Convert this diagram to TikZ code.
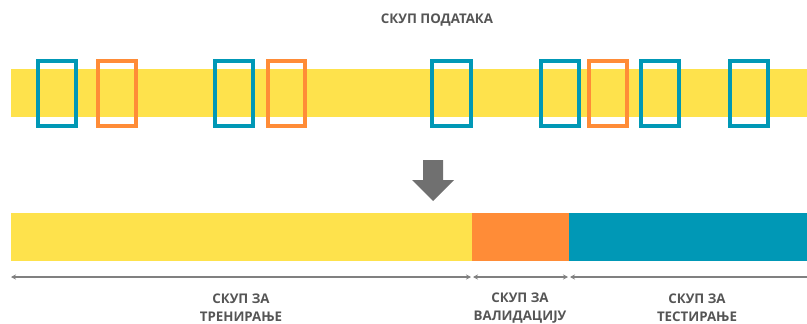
\documentclass[tikz,border=0pt]{standalone}
\usepackage{fontspec}
\setmainfont{Open Sans}
\usetikzlibrary{arrows.meta}
\definecolor{band}{RGB}{254,226,76}
\definecolor{valc}{RGB}{255,140,55}
\definecolor{testc}{RGB}{0,152,182}
\definecolor{txtc}{RGB}{85,85,85}
\definecolor{dimc}{RGB}{128,128,128}
\definecolor{arrc}{RGB}{112,112,112}
\tikzset{
  x=1pt, y=-1pt,
  sample/.style={draw=#1, line width=3.4pt},
  lbl/.style={font=\bfseries\fontsize{13.3}{18}\selectfont, text=txtc, align=center, inner sep=0pt},
  dimline/.style={draw=dimc, line width=1.5pt, {Stealth[length=5pt,width=5pt]}-{Stealth[length=5pt,width=5pt]}}
}
\begin{document}
\begin{tikzpicture}
\useasboundingbox (0,0) rectangle (807,324);
% title
\node[lbl] (title) at (437,20) {СКУП ПОДАТАКА};
% full data set band
\fill[band] (11,69) rectangle (807,117);
% sampled records
\foreach \l/\r/\c in {38/76/testc, 98/136/valc, 215/253/testc, 268/305/valc,
  432/471/testc, 541/579/testc, 589/627/valc, 641/679/testc, 730/768/testc}
  \draw[sample=\c] (\l,61) rectangle (\r,126);
% split arrow
\fill[arrc] (423,160) -- (443,160) -- (443,180) -- (454,180) -- (433,201)
  -- (412,180) -- (423,180) -- cycle;
% split bar
\fill[band] (11,213) rectangle (472,261);
\fill[valc] (472,213) rectangle (569,261);
\fill[testc] (569,213) rectangle (807,261);
% extent markers
\coordinate (d0) at (11,277);
\coordinate (d1) at (471,277);
\coordinate (d2) at (473,277);
\coordinate (d3) at (568,277);
\coordinate (d4) at (570,277);
\coordinate (d5) at (807,277);
\draw[dimline] (d0) -- (d1);
\draw[dimline] (d2) -- (d3);
\draw[draw=dimc, line width=1.5pt, -{Stealth[length=5pt,width=5pt]}] (d5) -- (d4);
% labels
\node[lbl] (train) at (241,308) {СКУП ЗА\\ТРЕНИРАЊЕ};
\node[lbl] (val) at (520,308) {СКУП ЗА\\ВАЛИДАЦИЈУ};
\node[lbl] (test) at (697,308) {СКУП ЗА\\ТЕСТИРАЊЕ};
\end{tikzpicture}
\end{document}
